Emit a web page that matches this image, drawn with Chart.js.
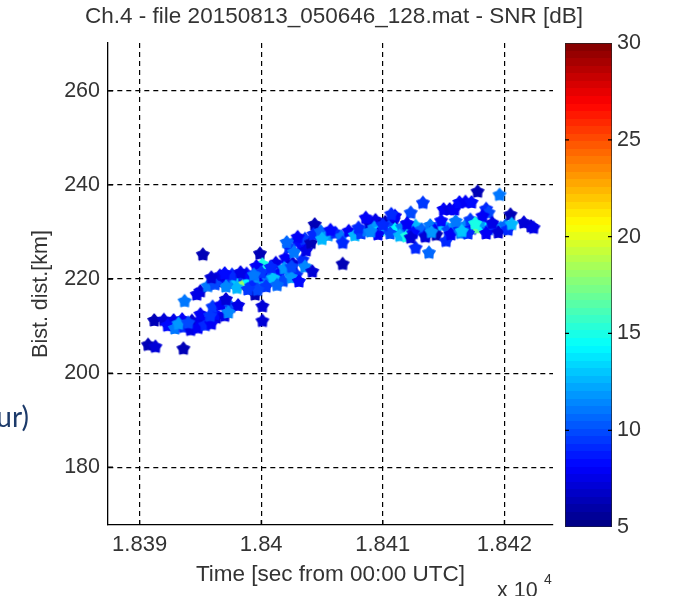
<!DOCTYPE html>
<html>
<head>
<meta charset="utf-8">
<title>Ch.4 SNR</title>
<script src="https://cdn.jsdelivr.net/npm/chart.js@4.4.0/dist/chart.umd.min.js"></script>
<style>
  html, body { margin: 0; padding: 0; background: #fff; }
  #wrap { position: relative; width: 674px; height: 596px; overflow: hidden; }
  #main { position: absolute; left: 0; top: 0; }
  #cbar { position: absolute; left: 560px; top: 25px; }
  #side { position: absolute; right: 645px; top: 400px; font: 28px Lato, sans-serif; line-height: 32px; color: #1c3a6a; white-space: nowrap; }
</style>
</head>
<body>
<div id="wrap">
  <canvas id="main" width="674" height="596"></canvas>
  <canvas id="cbar" width="114" height="520"></canvas>
  <div id="side">ur)</div>
</div>
<script>
// detections: time [s], bistatic distance [km], SNR [dB]
const time = [
  18390.7, 18391.3, 18393.6, 18391.2, 18392.0, 18392.8, 18393.5, 18394.3, 18395.0, 18395.8,
  18396.3, 18392.3, 18392.9, 18393.6, 18394.2, 18394.8, 18395.4, 18393.2, 18394.0, 18395.9,
  18396.2, 18397.0, 18396.0, 18396.7, 18397.5, 18398.1, 18393.7, 18397.3, 18397.1, 18395.0,
  18394.7, 18395.2, 18395.6, 18396.4, 18396.9, 18397.4, 18397.8, 18398.1, 18398.5, 18398.6,
  18399.0, 18398.0, 18397.1, 18399.4, 18399.8, 18396.6, 18399.2, 18400.2, 18400.6, 18399.5,
  18400.1, 18400.1, 18399.9, 18400.1, 18399.6, 18400.0, 18400.9, 18401.5, 18402.3, 18402.9,
  18401.2, 18402.0, 18402.6, 18403.4, 18401.8, 18402.5, 18403.1, 18401.0, 18402.3, 18402.9,
  18403.3, 18402.7, 18403.6, 18403.0, 18402.1, 18403.7, 18403.6, 18404.2, 18401.9, 18398.8,
  18400.4, 18399.7, 18404.4, 18404.1, 18404.3, 18404.9, 18405.5, 18406.1, 18406.6, 18407.2,
  18407.7, 18408.2, 18405.0, 18406.7, 18406.7, 18405.7, 18408.7, 18408.9, 18409.4, 18410.2,
  18410.9, 18409.3, 18409.8, 18410.5, 18411.0, 18411.6, 18412.2, 18412.7, 18413.2, 18409.6,
  18410.6, 18411.4, 18412.0, 18412.5, 18413.5, 18411.0, 18412.3, 18412.7, 18413.3, 18413.8,
  18412.3, 18413.5, 18413.9, 18414.4, 18414.9, 18415.4, 18415.9, 18416.3, 18416.8, 18417.3,
  18417.8, 18418.2, 18418.7, 18419.2, 18419.7, 18420.1, 18414.4, 18415.2, 18415.6, 18416.4,
  18417.0, 18418.5, 18419.5, 18414.8, 18416.0, 18417.2, 18418.0, 18415.0, 18415.5, 18415.9,
  18416.3, 18416.8, 18417.3, 18417.8, 18419.6, 18418.5, 18418.7, 18418.2, 18420.5, 18421.6,
  18422.2, 18422.4, 18408.6, 18410.7, 18408.0, 18409.0, 18414.0, 18416.5, 18419.0, 18420.3,
  18420.6, 18417.6, 18412.0, 18410.0, 18397.6, 18396.2, 18398.3, 18399.4, 18397.0, 18395.9,
  18398.9, 18401.3, 18400.8, 18402.5, 18395.0, 18395.8
];
const dist = [
  206.1, 205.7, 205.3, 211.3, 211.4, 211.3, 211.5, 211.2, 211.0, 211.6,
  211.9, 210.2, 209.6, 209.9, 209.3, 209.7, 210.3, 210.6, 210.8, 210.6,
  212.6, 212.3, 214.2, 214.6, 214.2, 214.5, 215.4, 213.0, 215.8, 217.5,
  216.8, 225.3, 218.6, 219.6, 220.0, 219.2, 220.3, 219.4, 220.6, 218.9,
  219.5, 218.2, 218.5, 220.2, 219.2, 220.8, 218.6, 220.8, 219.9, 216.8,
  214.3, 211.2, 225.5, 223.2, 222.8, 221.5, 221.7, 221.3, 221.9, 221.0,
  223.5, 224.6, 223.4, 224.2, 219.7, 220.4, 219.6, 220.3, 226.8, 228.2,
  227.3, 225.8, 228.6, 229.0, 227.9, 226.2, 222.7, 221.7, 222.4, 221.2,
  218.5, 217.8, 231.7, 227.8, 229.6, 230.2, 229.4, 229.9, 229.1, 230.3,
  229.4, 229.8, 228.6, 227.8, 223.3, 230.5, 230.4, 231.8, 232.6, 232.2,
  232.7, 231.0, 230.5, 231.2, 230.6, 231.1, 230.4, 231.4, 230.6, 229.6,
  229.8, 229.3, 229.2, 229.9, 229.4, 233.5, 234.2, 226.7, 236.3, 225.7,
  228.9, 229.1, 231.5, 230.8, 231.6, 230.5, 231.3, 230.6, 231.5, 230.8,
  231.0, 231.6, 230.7, 231.4, 231.0, 231.5, 229.5, 228.2, 229.6, 229.9,
  229.8, 229.8, 230.0, 232.5, 232.4, 232.7, 232.3, 234.9, 234.9, 234.9,
  236.4, 236.5, 236.4, 238.7, 238.0, 235.0, 234.2, 233.5, 233.8, 232.1,
  231.3, 231.0, 233.1, 233.9, 231.0, 230.2, 230.1, 230.3, 232.0, 230.6,
  231.8, 231.9, 231.9, 231.6, 221.0, 219.0, 221.5, 221.0, 221.3, 220.4,
  217.9, 218.8, 222.6, 222.7, 212.6, 212.3
];
const snr = [
  6.5, 7, 6.5, 6.5, 7, 7.5, 8, 7, 7.5, 8.5,
  7, 8.5, 11, 9, 7.5, 8, 9, 12, 10, 8,
  8.5, 7.5, 9.5, 8, 10, 7.5, 11, 11.5, 7, 7,
  7.5, 6.5, 11, 7, 8, 10, 12, 13, 9, 18,
  14, 12.5, 11.5, 10.5, 12, 7.5, 9, 8, 11, 6.5,
  7, 7, 6.5, 15, 8, 9.5, 10, 8.5, 11, 9,
  7.5, 8, 7, 9, 10, 12, 8.5, 13, 9, 10,
  8.5, 11, 9.5, 8, 10.5, 7.5, 11.5, 7, 12, 8.5,
  9.5, 10, 6.5, 6.5, 9, 10.5, 12, 9, 11, 8,
  12.5, 9.5, 12.5, 9, 6.5, 8.5, 11, 7, 7.5, 6.5,
  7, 12, 13.5, 10, 14, 11, 9, 12.5, 10.5, 8,
  10, 12.5, 15, 8.5, 9, 8, 10, 9, 9.5, 10.5,
  7, 7, 11, 8, 13, 10, 12, 9, 11.5, 8.5,
  17, 14, 10, 9, 12, 10.5, 6.5, 9, 8, 11,
  9, 8, 7, 8.5, 11, 9.5, 12, 8, 7.5, 8,
  8.5, 8, 8.5, 6.5, 11, 9, 10, 8, 6.5, 7,
  7, 7.5, 8, 9, 9, 11.5, 12, 13, 7.5, 9,
  12.5, 15, 8, 9, 9, 10, 7.5, 11, 8.5, 7,
  9.5, 10.5, 9, 10, 8, 9.5
];

const xTicks = [18390, 18400, 18410, 18420];
const xTickLabels = ['1.839', '1.84', '1.841', '1.842'];
const yTicks = [180, 200, 220, 240, 260];
const cbTicks = [5, 10, 15, 20, 25, 30];

const X_MIN = 18387.4, X_MAX = 18424.0;
const Y_MIN = 167.7, Y_MAX = 270.2;
const C_MIN = 5, C_MAX = 30, N_COLORS = 64;
const FAMILY = "'Liberation Sans', Arial, sans-serif";
const TEXT = '#333';
const font = { family: FAMILY, size: 21.5, weight: 'normal' };
const plotTitle = 'Ch.4 - file 20150813_050646_128.mat - SNR [dB]';

Chart.defaults.font.family = FAMILY;

// jet colormap, 64 steps
function jet(t) {
  const c = v => Math.round(255 * Math.max(0, Math.min(1, v)));
  const r = Math.min(4 * t - 1.5, -4 * t + 4.5);
  const g = Math.min(4 * t - 0.5, -4 * t + 3.5);
  const b = Math.min(4 * t + 0.5, -4 * t + 2.5);
  return `rgb(${c(r)},${c(g)},${c(b)})`;
}
const jetColors = [];
for (let i = 0; i < N_COLORS; i++) jetColors.push(jet((i + 0.5) / N_COLORS));

function colorFor(v) {
  let i = Math.floor((v - C_MIN) / (C_MAX - C_MIN) * N_COLORS);
  i = Math.max(0, Math.min(N_COLORS - 1, i));
  return jetColors[i];
}

// filled pentagram marker, one small canvas per colour
const markers = {};
function pentagram(color) {
  if (markers[color]) return markers[color];
  const c = document.createElement('canvas');
  c.width = 16; c.height = 16;
  const g = c.getContext('2d');
  g.beginPath();
  for (let k = 0; k < 10; k++) {
    const a = -Math.PI / 2 + k * Math.PI / 5;
    const rad = k % 2 ? 4.3 : 6.6;
    g.lineTo(8 + rad * Math.cos(a), 8.6 + rad * Math.sin(a));
  }
  g.closePath();
  g.fillStyle = color;
  g.fill();
  g.strokeStyle = color;
  g.lineWidth = 1.2;
  g.lineJoin = 'round';
  g.stroke();
  markers[color] = c;
  return c;
}

// title, inward ticks, y label and the x multiplier
const axisExtras = {
  id: 'axisExtras',
  afterDraw(chart) {
    const { ctx, chartArea, scales } = chart;
    ctx.save();
    ctx.strokeStyle = '#000';
    ctx.lineWidth = 1.2;
    ctx.beginPath();
    xTicks.forEach(v => {
      const x = scales.x.getPixelForValue(v);
      ctx.moveTo(x, chartArea.bottom);
      ctx.lineTo(x, chartArea.bottom - 5);
    });
    yTicks.forEach(v => {
      const y = scales.y.getPixelForValue(v);
      ctx.moveTo(chartArea.left, y);
      ctx.lineTo(chartArea.left + 5, y);
    });
    ctx.stroke();

    ctx.fillStyle = TEXT;
    ctx.textAlign = 'center';
    ctx.textBaseline = 'middle';
    ctx.font = `22.5px ${FAMILY}`;
    ctx.fillText(plotTitle, 334, 17);

    ctx.font = `21.5px ${FAMILY}`;
    ctx.save();
    ctx.translate(41, 294);
    ctx.rotate(-Math.PI / 2);
    ctx.fillText('Bist. dist.[km]', 0, 0);
    ctx.restore();

    ctx.textBaseline = 'alphabetic';
    ctx.textAlign = 'left';
    ctx.fillText('x 10', 497, 597);
    ctx.font = `14px ${FAMILY}`;
    ctx.fillText('4', 544, 584);
    ctx.restore();
  }
};

new Chart(document.getElementById('main'), {
  type: 'scatter',
  data: {
    datasets: [{
      data: time.map((t, i) => ({ x: t, y: dist[i] })),
      pointStyle: ctx => pentagram(colorFor(snr[ctx.dataIndex])),
      pointRadius: 6
    }]
  },
  options: {
    responsive: false,
    animation: false,
    layout: { padding: { left: 0, right: 121, top: 43, bottom: 0 } },
    plugins: {
      legend: { display: false },
      tooltip: { enabled: false },
      title: { display: false }
    },
    scales: {
      x: {
        type: 'linear',
        min: X_MIN,
        max: X_MAX,
        afterBuildTicks: s => { s.ticks = xTicks.map(v => ({ value: v })); },
        afterFit: s => { s.height = 71; },
        ticks: {
          callback: (v, i) => xTickLabels[i],
          color: TEXT, font: { family: FAMILY, size: 22, weight: 'normal' },
          padding: 7, maxRotation: 0, autoSkip: false
        },
        grid: { color: '#000', lineWidth: 1.2, drawTicks: false },
        border: { display: true, color: '#000', width: 1.3, dash: [5, 4] },
        title: {
          display: true, text: 'Time [sec from 00:00 UTC]',
          color: TEXT, font: { family: FAMILY, size: 22.5, weight: 'normal' },
          padding: { top: 0, bottom: 8 }
        }
      },
      y: {
        type: 'linear',
        min: Y_MIN,
        max: Y_MAX,
        afterBuildTicks: s => { s.ticks = yTicks.map(v => ({ value: v })); },
        afterFit: s => { s.width = 108; },
        ticks: { color: TEXT, font: font, padding: 8 },
        grid: { color: '#000', lineWidth: 1.2, drawTicks: false },
        border: { display: true, color: '#000', width: 1.3, dash: [5, 4] }
      }
    }
  },
  plugins: [axisExtras]
});

// stepped jet gradient for the colour bar
function barGradient(chart) {
  if (!chart.chartArea) return jetColors[0];
  const y = chart.scales.y;
  const g = chart.ctx.createLinearGradient(0, y.getPixelForValue(C_MIN), 0, y.getPixelForValue(C_MAX));
  jetColors.forEach((c, i) => {
    g.addColorStop(i / N_COLORS, c);
    g.addColorStop((i + 1) / N_COLORS, c);
  });
  return g;
}

const cbarTicks = {
  id: 'cbarTicks',
  afterDatasetsDraw(chart) {
    const { ctx, chartArea, scales } = chart;
    ctx.save();
    ctx.strokeStyle = '#000';
    ctx.lineWidth = 1.2;
    ctx.beginPath();
    cbTicks.slice(1, -1).forEach(v => {
      const y = scales.y.getPixelForValue(v);
      ctx.moveTo(chartArea.left, y);
      ctx.lineTo(chartArea.left + 4, y);
      ctx.moveTo(chartArea.right, y);
      ctx.lineTo(chartArea.right - 4, y);
    });
    ctx.stroke();
    ctx.restore();
  }
};

new Chart(document.getElementById('cbar'), {
  type: 'bar',
  data: {
    labels: [''],
    datasets: [{
      data: [[C_MIN, C_MAX]],
      backgroundColor: ctx => barGradient(ctx.chart),
      borderColor: '#222',
      borderWidth: 1,
      borderSkipped: false,
      barPercentage: 1,
      categoryPercentage: 1
    }]
  },
  options: {
    responsive: false,
    animation: false,
    layout: { padding: { left: 5, right: 0, top: 18, bottom: 17 } },
    plugins: { legend: { display: false }, tooltip: { enabled: false } },
    scales: {
      x: { display: false },
      y: {
        position: 'right',
        min: C_MIN,
        max: C_MAX,
        afterBuildTicks: s => { s.ticks = cbTicks.map(v => ({ value: v })); },
        afterFit: s => { s.width = 62; },
        ticks: { color: TEXT, font: font, padding: 5 },
        grid: { display: false, drawTicks: false },
        border: { display: false }
      }
    }
  },
  plugins: [cbarTicks]
});
</script>
</body>
</html>
